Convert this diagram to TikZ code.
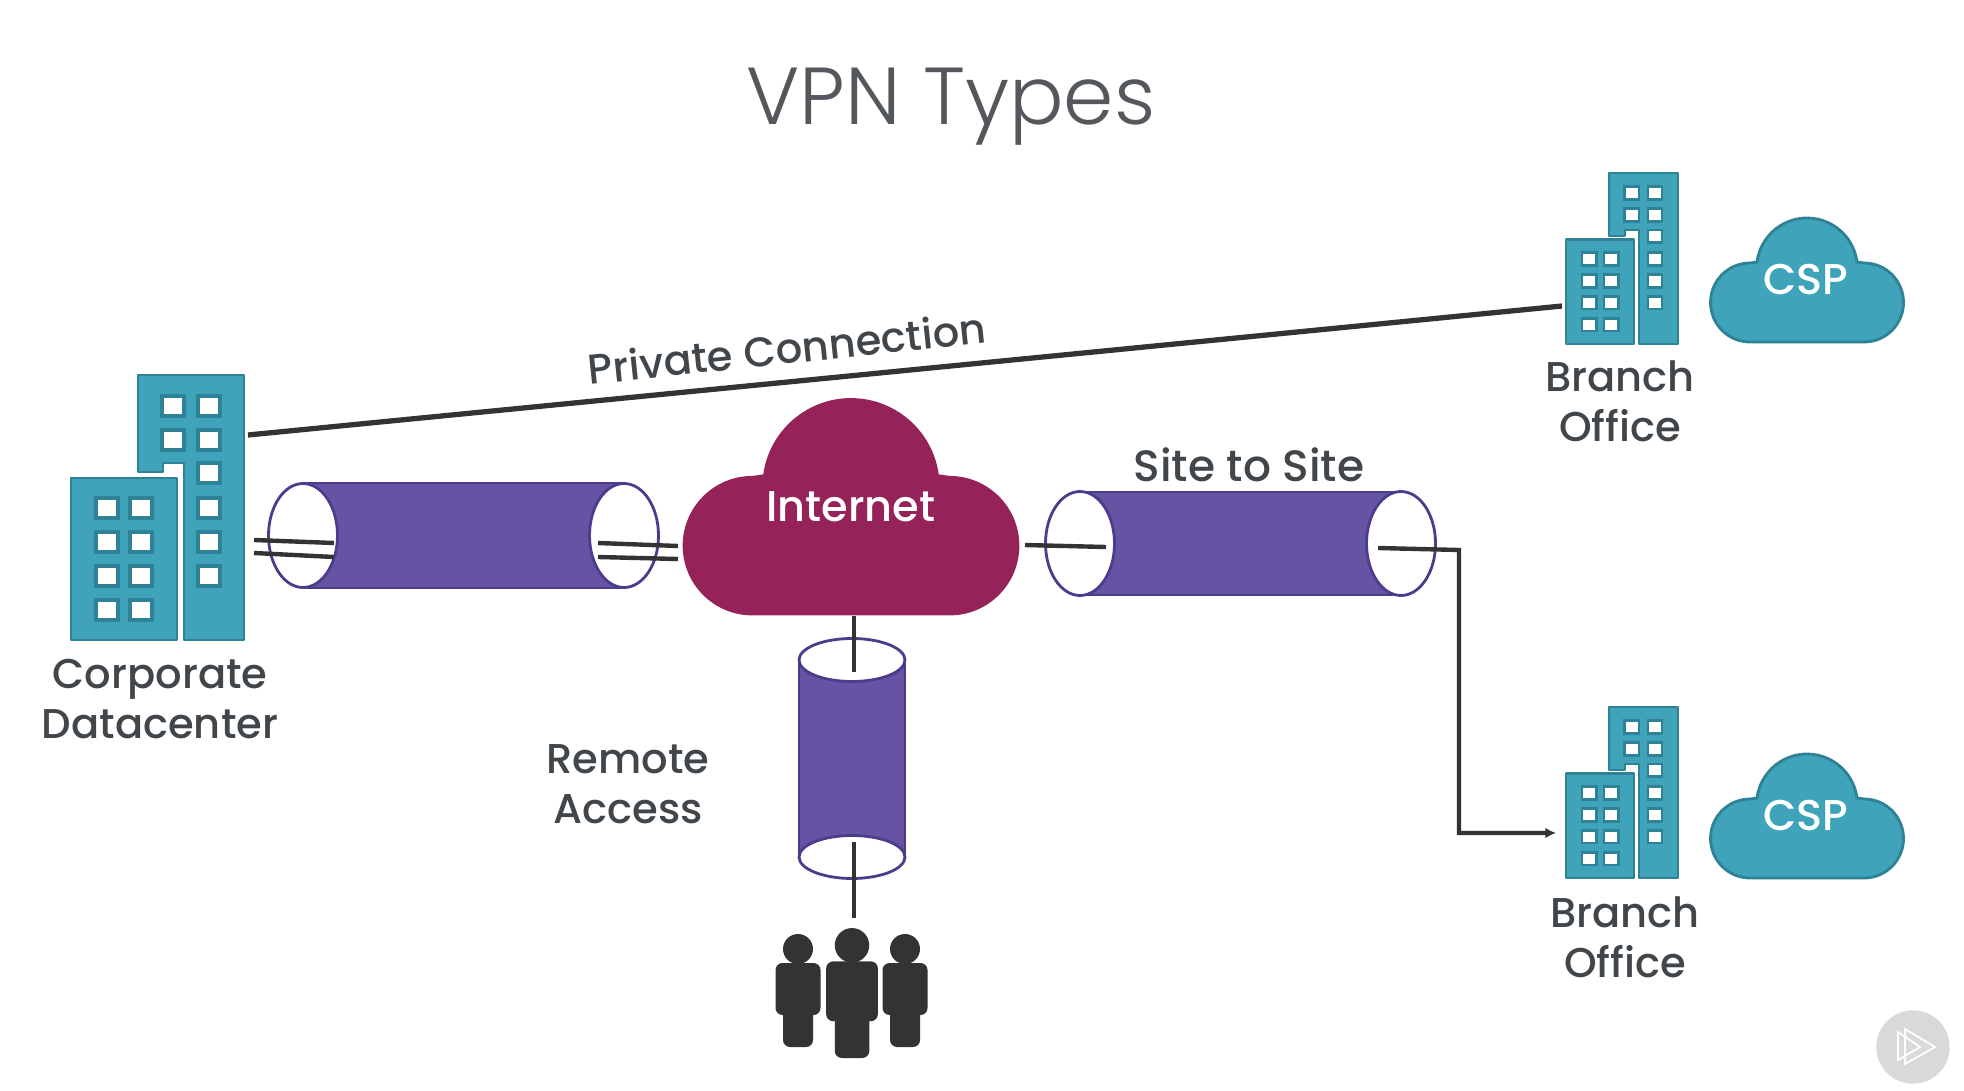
\documentclass[tikz,border=0pt]{standalone}
\usepackage{fontspec}
\setmainfont{Poppins Medium}
\newfontfamily\titlefont{Poppins Light}
\usetikzlibrary{shapes.geometric,arrows.meta}
\definecolor{teal}{HTML}{3FA4B9}
\definecolor{tealdark}{HTML}{2F8195}
\definecolor{tube}{HTML}{6753A4}
\definecolor{tubedark}{HTML}{4B3C8C}
\definecolor{inet}{HTML}{95235A}
\definecolor{wire}{HTML}{333333}
\definecolor{ink}{HTML}{41464B}
\tikzset{
	win/.style={draw=tealdark,fill=white,line width=2.2pt},
	block/.style={draw=tealdark,fill=teal,line width=1.2pt,line join=round},
	cloudbody/.style={draw=tealdark,fill=teal,line width=1.6pt},
	label/.style={text=ink,font=\fontsize{23.7}{28.5}\selectfont,align=center,inner sep=0},
	cloudlabel/.style={text=white,font=\fontsize{24.5}{28}\selectfont,inner sep=0},
	wirethin/.style={draw=wire,line width=2.5pt},
	wirethick/.style={draw=wire,line width=3pt},
	tubebody/.style={draw=tubedark,fill=tube,line width=1.6pt},
	tubeh/.style={ellipse,draw=tubedark,fill=white,line width=1.6pt,inner sep=0,minimum width=1.38cm,minimum height=2.08cm},
	tubev/.style={ellipse,draw=tubedark,fill=white,line width=1.6pt,inner sep=0,minimum width=2.12cm,minimum height=0.86cm},
	pics/tower/.style={code={
		\draw[block] (67,265) -- (173,265) -- (173,0) -- (113,0) -- (113,177) -- (92,177) -- (92,168) -- (67,168) -- cycle;
		\draw[block] (0,0) rectangle (106,162);
		\foreach \y in {30,64,98,132} {
			\path[win] (25,\y-10) rectangle (47,\y+10);
			\path[win] (59,\y-10) rectangle (81,\y+10);
		}
		\foreach \y in {64,98,132,167,200,234}
			\path[win] (127,\y-10) rectangle (149,\y+10);
		\foreach \y in {200,234}
			\path[win] (91,\y-10) rectangle (113,\y+10);
	}},
	pics/cloud/.style={code={
		\draw[cloudbody] (-57,0) arc[start angle=270,end angle=90,radius=39.5] -- (-50,80)
			arc[start angle=172.7,end angle=7.3,radius=50.4] -- (57,79)
			arc[start angle=90,end angle=-90,radius=39.5] -- cycle;
	}},
	pics/person/.style={code={
		\fill[wire] (0,98) circle (15);
		\fill[wire,rounded corners=4pt] (-22.5,32) rectangle (22.5,84);
		\fill[wire,rounded corners=4pt] (-15,0) rectangle (15,40);
	}},
}
\begin{document}
\begin{tikzpicture}[x=0.02cm,y=0.02cm]
	\useasboundingbox (0,0) rectangle (1964,-1091);

	\node[text=ink!90,inner sep=0,font=\titlefont\fontsize{46}{54}\selectfont] (title) at (951,-107) {VPN Types};

	% buildings and clouds
	\pic (corp) at (71,-640) {tower};
	\pic[scale=0.645,win/.append style={line width=1.5pt}] (brancha) at (1566,-344) {tower};
	\pic[scale=0.645,win/.append style={line width=1.5pt}] (branchb) at (1566,-878) {tower};
	\pic (cspa) at (1807,-342) {cloud};
	\pic (cspb) at (1807,-878) {cloud};
	\pic[scale=1.73,cloudbody/.append style={draw=inet,fill=inet}] (inetcloud) at (851,-614) {cloud};

	\node[cloudlabel] (csptexta) at (1806,-279) {CSP};
	\node[cloudlabel] (csptextb) at (1806,-815) {CSP};
	\node[cloudlabel] (inettext) at (851,-507) {Internet};

	\node[label] (corplabel) at (160,-699) {Corporate\\Datacenter};
	\node[label] (branchlabela) at (1620,-401) {Branch\\Office};
	\node[label] (branchlabelb) at (1625,-937) {Branch\\Office};
	\node[label,font=\fontsize{25}{28.5}\selectfont] (sitelabel) at (1249,-465) {Site to Site};
	\node[label] (remotelabel) at (628,-784) {Remote\\Access};
	\node[label,rotate=6] (privatelabel) at (787,-348) {Private Connection};

	% tunnels
	\path[tubebody] (303,-483) rectangle (624,-588);
	\node[tubeh] (tunnelal) at (303,-535.5) {};
	\node[tubeh] (tunnelar) at (624,-535.5) {};
	\path[tubebody] (1080,-492) rectangle (1401,-595);
	\node[tubeh] (tunnelbl) at (1080,-543.5) {};
	\node[tubeh] (tunnelbr) at (1401,-543.5) {};
	\path[tubebody] (799,-660) rectangle (905,-857);
	\node[tubev] (tunnelct) at (852,-660) {};
	\node[tubev] (tunnelcb) at (852,-857) {};

	% users
	\pic (usera) at (798,-1047) {person};
	\pic (userc) at (905,-1047) {person};
	\pic[scale=1.15] (userb) at (852,-1058) {person};

	% connector ends
	\coordinate (privs) at (248,-435);
	\coordinate (prive) at (1562,-306);
	\coordinate (upla) at (254,-540);
	\coordinate (uplb) at (334,-543);
	\coordinate (lowla) at (254,-553);
	\coordinate (lowlb) at (334,-557);
	\coordinate (upra) at (598,-543);
	\coordinate (uprb) at (678,-546);
	\coordinate (lowra) at (598,-557);
	\coordinate (lowrb) at (678,-559);
	\coordinate (sitela) at (1025,-545);
	\coordinate (sitelb) at (1106,-547);
	\coordinate (sitera) at (1378,-548);
	\coordinate (siterb) at (1459,-550);
	\coordinate (sitecorner) at (1459,-833);
	\coordinate (siteend) at (1556,-833);
	\coordinate (remta) at (854,-616);
	\coordinate (remtb) at (854,-672);
	\coordinate (remba) at (854,-842);
	\coordinate (rembb) at (854,-918);

	\draw[wirethick] (privs) -- (prive);
	\draw[wirethin] (upla) -- (uplb);
	\draw[wirethin] (lowla) -- (lowlb);
	\draw[wirethin] (upra) -- (uprb);
	\draw[wirethin] (lowra) -- (lowrb);
	\draw[wirethin] (sitela) -- (sitelb);
	\draw[wirethin,-{Latex[length=6pt,width=6pt]}] (sitera) -- (siterb) -- (sitecorner) -- (siteend);
	\draw[wirethin] (remta) -- (remtb);
	\draw[wirethin] (remba) -- (rembb);

	% badge
	\fill[gray!30] (1913,-1047) circle (36.7);
	\draw[white,line width=1pt] (1898,-1032) -- (1920,-1047) -- (1898,-1060) -- cycle;
	\draw[white,line width=1pt] (1905,-1029) -- (1935,-1047) -- (1905,-1064) -- cycle;
\end{tikzpicture}
\end{document}
